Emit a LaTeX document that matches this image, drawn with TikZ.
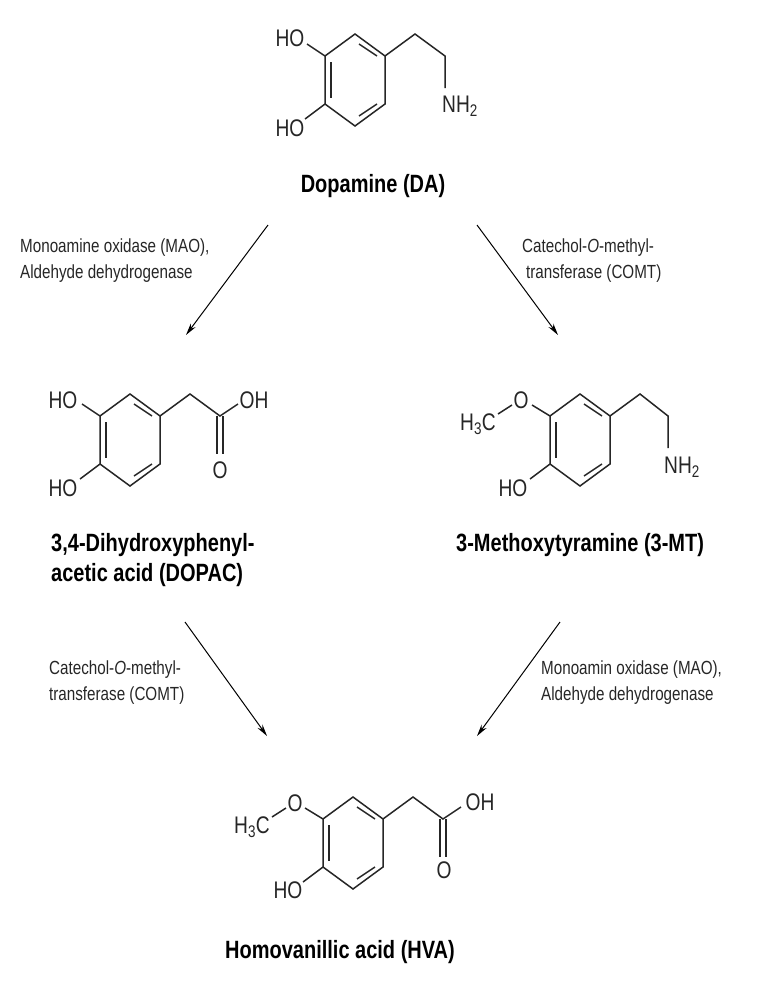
\documentclass[tikz,border=0pt]{standalone}
\usepackage{fontspec}
\setmainfont{Liberation Sans}[FakeStretch=0.8]
\usetikzlibrary{arrows.meta}
\begin{document}
\begin{tikzpicture}[x=1pt,y=-1pt,
  bond/.style={line width=1.5pt,black!85},
  atom/.style={font=\fontsize{24}{24}\selectfont,inner sep=0pt,text=black!85},
  molname/.style={font=\fontsize{25}{30}\selectfont\bfseries,align=left,inner sep=0pt},
  enz/.style={font=\fontsize{19}{26}\selectfont,align=left,inner sep=0pt,text=black!85},
  arr/.style={line width=1pt,-{Stealth[length=12pt,width=6pt]}}]
\useasboundingbox (0,0) rectangle (762,988);
\newcommand{\benz}[2]{%
 \begin{scope}[shift={(#1,#2)}]
  \draw[bond] (0,-46)--(30,-24)--(30,24)--(0,46)--(-30,24)--(-30,-24)--cycle;
  \draw[bond] (-24,-18)--(-24,18);
  \draw[bond] (4,-36)--(22,-24);
  \draw[bond] (22,24)--(4,36);
 \end{scope}}
% Dopamine
\benz{355}{80}
\begin{scope}[shift={(355,80)}]
 \draw[bond] (30,-24)--(60,-46)--(90,-24)--(90,8);
 \draw[bond] (-30,-24)--(-48,-36);
 \draw[bond] (-30,24)--(-50,39);
\end{scope}
\node[atom] (da-ho1) at (290,38) {HO};
\node[atom] (da-ho2) at (290,128) {HO};
\node[atom] (da-n) at (460,106) {NH\textsubscript{2}};
\node[molname] (da) at (373,186) {Dopamine (DA)};
% DOPAC
\benz{130}{440}
\begin{scope}[shift={(130,440)}]
 \draw[bond] (30,-24)--(60,-46)--(90,-24)--(108,-36);
 \draw[bond] (87,-24)--(87,14); \draw[bond] (93,-24)--(93,14);
 \draw[bond] (-30,-24)--(-48,-36);
 \draw[bond] (-30,24)--(-50,39);
\end{scope}
\node[atom] (dp-ho1) at (63,400) {HO};
\node[atom] (dp-ho2) at (63,488) {HO};
\node[atom] (dp-oh) at (254,400) {OH};
\node[atom] (dp-o) at (220,470) {O};
\node[molname,anchor=north west] (dopac) at (51,533) {3,4-Dihydroxyphenyl-\\acetic acid (DOPAC)};
% 3-MT
\benz{580}{440}
\begin{scope}[shift={(580,440)}]
 \draw[bond] (30,-24)--(60,-46)--(88,-24)--(88,8);
 \draw[bond] (-30,-24)--(-48,-35);
 \draw[bond] (-30,24)--(-50,39);
\end{scope}
\node[atom] (mt-o) at (521,400) {O};
\draw[bond] (512,405)--(498,414);
\node[atom] (mt-h3c) at (478,424) {H\textsubscript{3}C};
\node[atom] (mt-ho) at (513,488) {HO};
\node[atom] (mt-n) at (682,467) {NH\textsubscript{2}};
\node[molname,anchor=north west] (mt) at (456,533) {3-Methoxytyramine (3-MT)};
% HVA
\benz{353}{843}
\begin{scope}[shift={(353,843)}]
 \draw[bond] (30,-24)--(60,-46)--(90,-24)--(108,-36);
 \draw[bond] (87,-24)--(87,14); \draw[bond] (93,-24)--(93,14);
 \draw[bond] (-30,-24)--(-48,-35);
 \draw[bond] (-30,24)--(-50,39);
\end{scope}
\node[atom] (hv-o) at (295,803) {O};
\draw[bond] (286,808)--(272,817);
\node[atom] (hv-h3c) at (252,827) {H\textsubscript{3}C};
\node[atom] (hv-ho) at (288,890) {HO};
\node[atom] (hv-oh) at (480,802) {OH};
\node[atom] (hv-o2) at (444,870) {O};
\node[molname] (hva) at (340,952) {Homovanillic acid (HVA)};
% arrows
\coordinate (a1s) at (268,225); \coordinate (a1e) at (186,335);
\coordinate (a2s) at (477,225); \coordinate (a2e) at (558,335);
\coordinate (a3s) at (185,622); \coordinate (a3e) at (267,736);
\coordinate (a4s) at (560,622); \coordinate (a4e) at (477,736);
\draw[arr] (a1s)--(a1e);
\draw[arr] (a2s)--(a2e);
\draw[arr] (a3s)--(a3e);
\draw[arr] (a4s)--(a4e);
\node[enz,anchor=west] (e1) at (20,261) {Monoamine oxidase (MAO),\\Aldehyde dehydrogenase};
\node[enz,anchor=west] (e2) at (522,261) {Catechol-\textit{O}-methyl-\\\hspace*{4pt}transferase (COMT)};
\node[enz,anchor=west] (e3) at (49,683) {Catechol-\textit{O}-methyl-\\transferase (COMT)};
\node[enz,anchor=west] (e4) at (541,683) {Monoamin oxidase (MAO),\\Aldehyde dehydrogenase};
\end{tikzpicture}
\end{document}
